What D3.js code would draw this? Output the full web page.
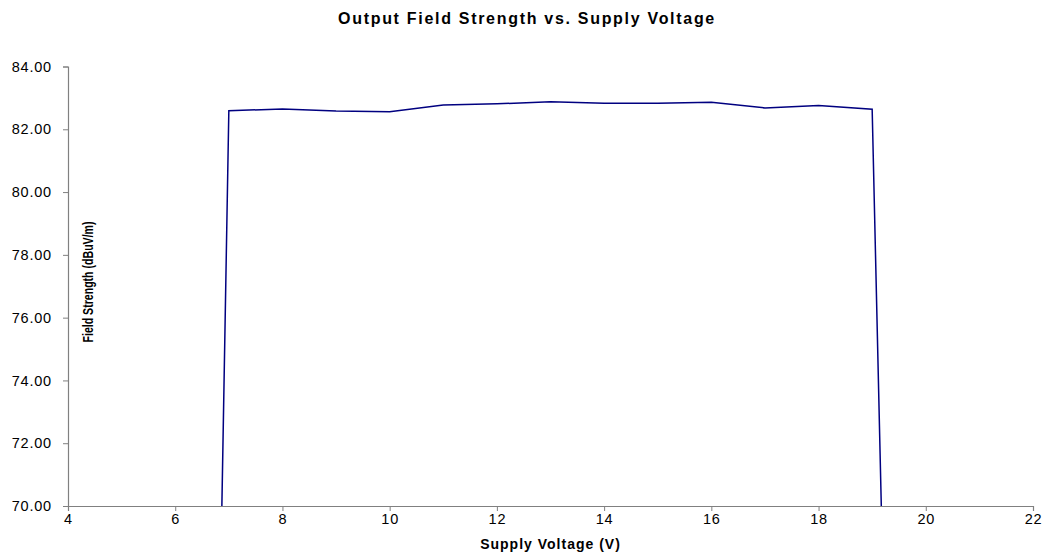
<!DOCTYPE html>
<html>
<head>
<meta charset="utf-8">
<script src="https://cdn.jsdelivr.net/npm/d3@7"></script>
<style>
  body { margin: 0; background: #fff; }
  text { font-family: "Liberation Sans", Arial, sans-serif; fill: #000; }
</style>
</head>
<body>
<div id="chart"></div>
<script>
// supply voltage (V) and field strength (dBuV/m)
var voltage = [6.8, 7, 8, 9, 10, 11, 12, 13, 14, 15, 16, 17, 18, 19, 19.2];
var strength = [63.2, 82.59, 82.65, 82.58, 82.56, 82.77, 82.81, 82.88, 82.83, 82.83, 82.86, 82.68, 82.76, 82.64, 67.8];
var xTicks = [4, 6, 8, 10, 12, 14, 16, 18, 20, 22];
var yTicks = [70, 72, 74, 76, 78, 80, 82, 84];

var width = 1044, height = 553;
var margin = {top: 66.5, right: 11, bottom: 47, left: 68};

var svg = d3.select("#chart").append("svg")
    .attr("width", width)
    .attr("height", height);

var x = d3.scaleLinear().domain([4, 22]).range([margin.left, width - margin.right]);
var y = d3.scaleLinear().domain([70, 84]).range([height - margin.bottom, margin.top]);

svg.append("defs").append("clipPath").attr("id", "clip")
  .append("rect")
    .attr("x", x(4)).attr("y", y(84))
    .attr("width", x(22) - x(4)).attr("height", y(70) - y(84));

// axes
var xAxis = svg.append("g")
    .attr("transform", "translate(0," + y(70) + ")")
    .call(d3.axisBottom(x).tickValues(xTicks).tickSize(5).tickPadding(3).tickFormat(d3.format("d")));
var yAxis = svg.append("g")
    .attr("transform", "translate(" + x(4) + ",0)")
    .call(d3.axisLeft(y).tickValues(yTicks).tickSize(5).tickPadding(11).tickFormat(d3.format(".2f")));

[xAxis, yAxis].forEach(function(a){
    a.select(".domain").attr("stroke", "#808080").attr("stroke-width", 1.2);
    a.selectAll(".tick line").attr("stroke", "#808080");
    a.selectAll(".tick text")
        .style("font-family", "'Liberation Sans', Arial, sans-serif")
        .style("font-size", "14.5px")
        .style("letter-spacing", "0.8px")
        .attr("fill", "#000");
});

// data line
var pts = voltage.map(function(v, i){ return [v, strength[i]]; });
var line = d3.line()
    .x(function(d){ return x(d[0]); })
    .y(function(d){ return y(d[1]); });

svg.append("path")
    .datum(pts)
    .attr("clip-path", "url(#clip)")
    .attr("fill", "none")
    .attr("stroke", "#000080")
    .attr("stroke-width", 1.5)
    .attr("d", line);

// titles
svg.append("text")
    .attr("x", 527).attr("y", 24)
    .attr("text-anchor", "middle")
    .style("font-size", "16px").style("font-weight", "bold")
    .style("letter-spacing", "1.7px")
    .text("Output Field Strength vs. Supply Voltage");

svg.append("text")
    .attr("x", (x(4) + x(22)) / 2).attr("y", 549)
    .attr("text-anchor", "middle")
    .style("font-size", "14px").style("font-weight", "bold")
    .style("letter-spacing", "1px")
    .text("Supply Voltage (V)");

svg.append("text")
    .attr("transform", "translate(93," + 282 + ") rotate(-90)")
    .attr("text-anchor", "middle")
    .attr("textLength", 121)
    .attr("lengthAdjust", "spacingAndGlyphs")
    .style("font-size", "14px").style("font-weight", "bold")
    .text("Field Strength (dBuV/m)");
</script>
</body>
</html>
